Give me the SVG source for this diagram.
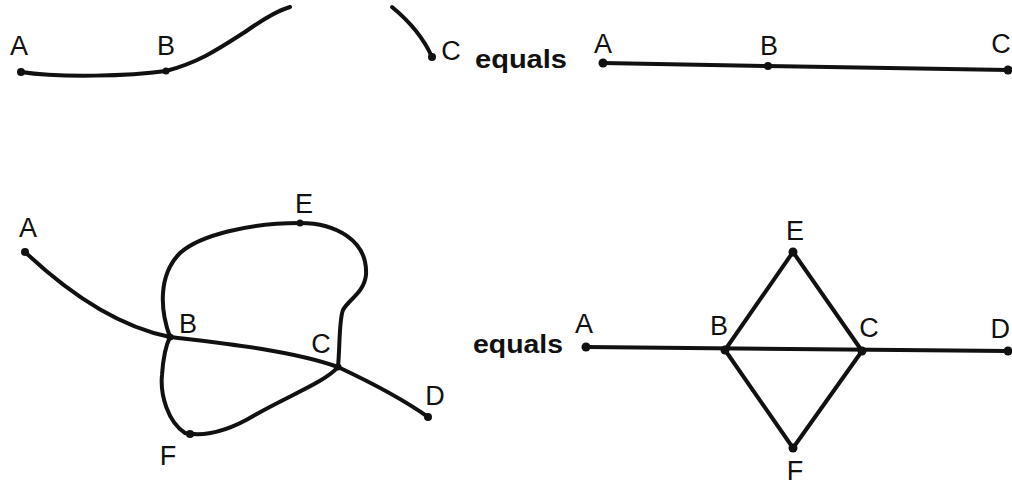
<svg xmlns="http://www.w3.org/2000/svg" width="1012" height="485" viewBox="0 0 1012 485">
<style>
.ln{fill:none;stroke:#111;stroke-width:4;stroke-linecap:round;stroke-linejoin:round}
.dot{fill:#111}
.lbl{font-family:"Liberation Sans",Arial,sans-serif;font-size:27px;fill:#111;text-anchor:middle}
.eq{font-family:"Liberation Sans",Arial,sans-serif;font-size:26px;font-weight:bold;fill:#111}
</style>
<rect width="1012" height="485" fill="#fff"/>
<g id="connectors">
<path class="ln" d="M21,72 C60,78 130,76 166,71 C200,62 220,48 245,32 C262,20 276,11 290,7"/>
<path class="ln" d="M392,7 Q420,30 432,57"/>
<path class="ln" d="M603,63 L768,66 L1008,70"/>
<path class="ln" d="M25,252 C60,285 110,325 170,337 C220,343 290,350 338,367 C370,382 400,397 428,417"/>
<path class="ln" d="M170,337 C160,310 158,275 180,253 C200,235 250,223 300,223 C335,223 368,240 366,275 C364,293 348,300 343,310 C339,320 340,345 338,367 C325,382 290,395 255,415 C230,430 205,437 185,433 C168,422 160,395 162,375 C163,360 166,345 170,337"/>
<path class="ln" d="M586,347 L1008,351 M725,350 L793,252 L862,351 L793,448 Z"/>
</g>
<g id="top-left">
<circle class="dot" cx="21" cy="72" r="4"/><text class="lbl" x="19" y="55">A</text>
<circle class="dot" cx="166" cy="71" r="3.5"/><text class="lbl" x="166" y="55">B</text>
<circle class="dot" cx="432" cy="57" r="4"/><text class="lbl" x="451" y="60">C</text>
</g>
<text class="eq" x="475" y="68" textLength="92" lengthAdjust="spacingAndGlyphs">equals</text>
<g id="top-right">
<circle class="dot" cx="603" cy="63" r="4.5"/><text class="lbl" x="603" y="53">A</text>
<circle class="dot" cx="768" cy="66" r="4"/><text class="lbl" x="769" y="55">B</text>
<circle class="dot" cx="1008" cy="70" r="4.5"/><text class="lbl" x="1001" y="53">C</text>
</g>
<g id="bottom-left">
<circle class="dot" cx="25" cy="252" r="4"/><text class="lbl" x="28" y="237">A</text>
<circle class="dot" cx="170" cy="337" r="3.5"/><text class="lbl" x="188" y="333">B</text>
<circle class="dot" cx="338" cy="367" r="3.5"/><text class="lbl" x="321" y="353">C</text>
<circle class="dot" cx="428" cy="417" r="4"/><text class="lbl" x="435" y="405">D</text>
<circle class="dot" cx="300" cy="223" r="3.5"/><text class="lbl" x="304" y="213">E</text>
<circle class="dot" cx="190" cy="434" r="4"/><text class="lbl" x="168" y="465">F</text>
</g>
<text class="eq" x="473" y="353" textLength="90" lengthAdjust="spacingAndGlyphs">equals</text>
<g id="bottom-right">
<circle class="dot" cx="586" cy="347" r="4.5"/><text class="lbl" x="584" y="333">A</text>
<circle class="dot" cx="725" cy="350" r="4.5"/><text class="lbl" x="719" y="335">B</text>
<circle class="dot" cx="862" cy="351" r="4.5"/><text class="lbl" x="869" y="337">C</text>
<circle class="dot" cx="1008" cy="351" r="4.5"/><text class="lbl" x="1010" y="338" style="text-anchor:end">D</text>
<circle class="dot" cx="793" cy="252" r="4.5"/><text class="lbl" x="795" y="240">E</text>
<circle class="dot" cx="793" cy="448" r="4.5"/><text class="lbl" x="795" y="480">F</text>
</g>
</svg>
